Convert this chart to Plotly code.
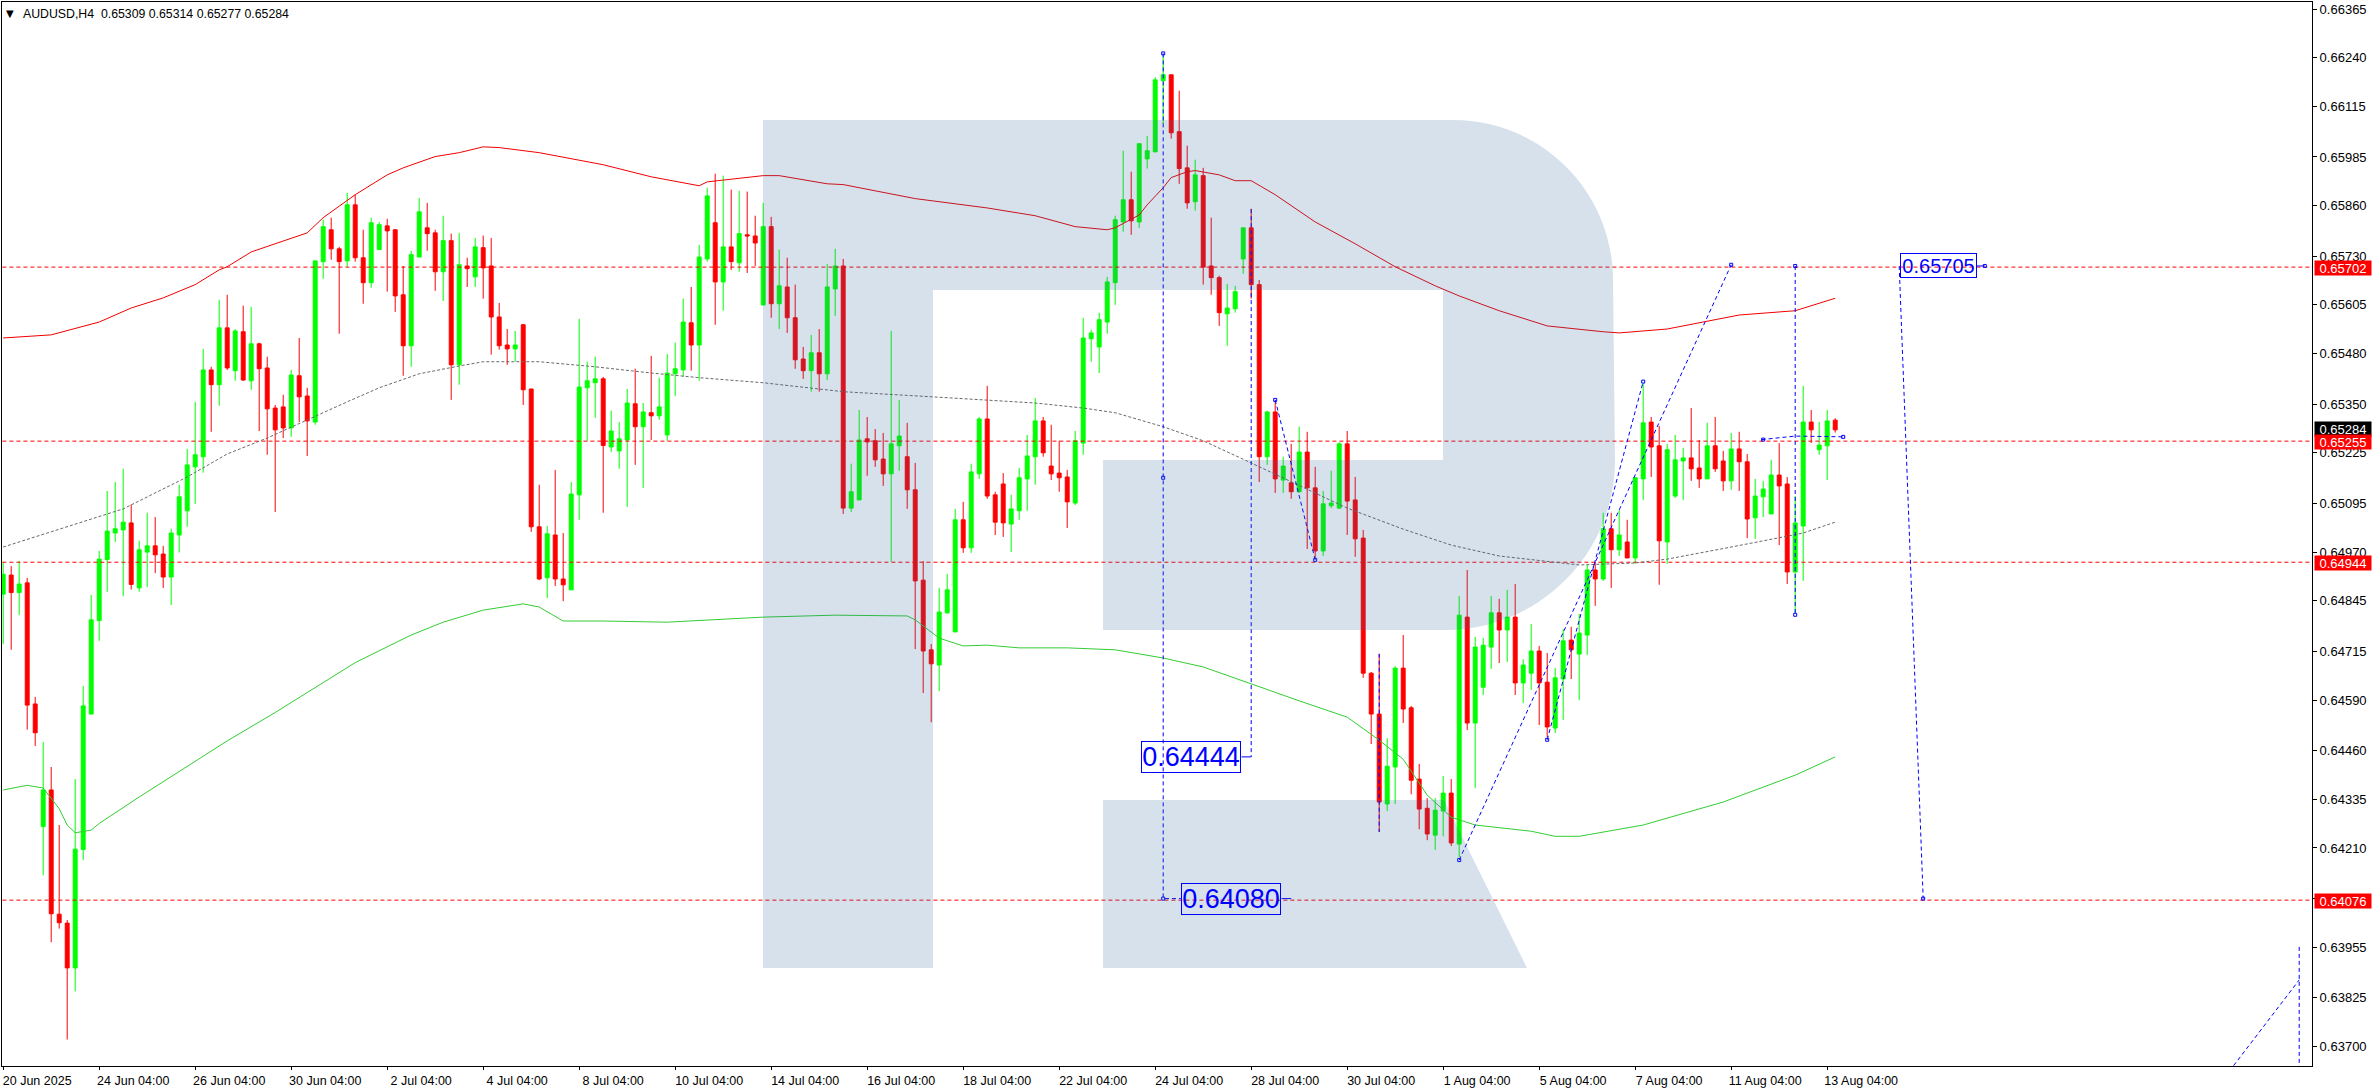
import plotly.graph_objects as go

W, H = 2376, 1090
ML, MR, MT, MB = 2, 64, 2, 24

# OHLC in price points (1 point = 0.00001)
open_pts = [
64862,64911,64866,64891,64580,64265,64359,64040,64017,63902,
64206,64554,64794,64951,65019,65027,65045,64878,64970,64986,
64965,64906,65014,65076,65189,65215,65438,65400,65546,65436,
65536,65410,65505,65443,65340,65343,65289,65423,65371,65304,
65716,65798,65749,65718,65862,65726,65662,65747,65808,65798,
65631,65500,65728,65803,65790,65690,65770,65451,65705,65677,
65752,65705,65574,65502,65492,65554,65389,65035,64904,65014,
64901,64873,65117,65392,65405,65415,65240,65230,65258,65351,
65292,65328,65320,65271,65428,65438,65559,65502,65723,65816,
65664,65754,65713,65785,65782,65605,65806,65608,65651,65572,
65466,65436,65482,65428,65646,65705,65083,65104,65261,65256,
65209,65171,65243,65215,65130,64898,64719,64680,64814,64765,
65053,64981,65171,65312,65117,65145,65042,65076,65158,65215,
65307,65191,65173,65163,65096,65250,65518,65497,65561,65662,
65818,65875,65818,65980,65998,66181,66196,66050,65957,65870,
65937,65705,65675,65582,65595,65723,65803,65657,65215,65330,
65155,65148,65125,65227,65135,64973,65089,65083,65248,65104,
65006,64659,64554,64323,64418,64672,64570,64387,64312,64243,
64305,64351,64220,64803,64531,64623,64726,64814,64770,64803,
64634,64659,64716,64636,64518,64644,64744,64708,64757,64924,
64901,65030,64976,64996,64955,65158,65304,65243,64996,65114,
65204,65212,65186,65158,65243,65204,65153,65235,65202,65058,
65112,65068,65168,65145,64919,65037,65304,65233,65243,65309]
high_pts = [
64945,64934,64947,64904,64598,64482,64418,64269,64025,64387,
64626,64860,64973,65127,65150,65184,65092,64999,65071,65060,
64986,65030,65143,65235,65356,65492,65446,65618,65631,65543,
65603,65600,65508,65472,65348,65374,65438,65520,65392,65718,
65824,65829,65754,65893,65888,65798,65829,65818,65826,65800,
65705,65744,65880,65867,65798,65834,65788,65790,65726,65777,
65783,65777,65610,65543,65538,65556,65389,65143,65037,65181,
65019,65150,65569,65459,65472,65420,65333,65304,65389,65441,
65353,65474,65418,65479,65508,65621,65651,65759,65906,65942,
65937,65901,65898,65896,65834,65867,65831,65747,65726,65657,
65497,65528,65543,65710,65749,65723,65197,65335,65317,65286,
65276,65538,65361,65302,65199,64947,64734,64878,64914,65081,
65099,65197,65317,65397,65125,65173,65117,65186,65271,65366,
65317,65297,65256,65181,65281,65572,65541,65585,65677,65834,
66001,65947,66019,66039,66190,66245,66196,66155,66014,65978,
65957,65829,65680,65659,65654,65803,65852,65669,65333,65358,
65215,65248,65292,65279,65189,65127,65179,65252,65281,65163,
65027,64662,64708,64492,64677,64757,64575,64426,64338,64338,
64395,64387,64857,64924,64752,64749,64857,64850,64873,64888,
64695,64785,64729,64711,64672,64772,64778,64811,64937,64945,
65071,65071,65078,65053,65161,65405,65317,65294,65248,65271,
65238,65340,65258,65302,65317,65230,65276,65279,65222,65158,
65153,65207,65250,65163,65114,65397,65335,65304,65335,65314]
low_pts = [
64734,64719,64808,64514,64472,64140,63968,64003,63718,63842,
64179,64553,64742,64868,64996,64857,64874,64868,64880,64916,
64878,64834,64969,65035,65094,65174,65279,65346,65438,65410,
65410,65387,65281,65220,65073,65263,65266,65304,65217,65297,
65672,65721,65531,65703,65716,65608,65649,65747,65639,65587,
65423,65446,65728,65744,65641,65615,65361,65400,65651,65651,
65621,65477,65490,65451,65459,65348,65022,64898,64852,64883,
64844,64873,65053,65256,65315,65071,65227,65184,65086,65194,
65135,65258,65310,65256,65371,65420,65436,65410,65716,65554,
65590,65695,65690,65687,65705,65603,65572,65543,65533,65441,
65415,65382,65382,65412,65577,65068,65073,65104,65166,65189,
65140,64945,65179,65081,64721,64608,64533,64613,64811,64765,
64968,64968,65158,65107,65014,65009,64970,65053,65076,65143,
65215,65155,65125,65032,65091,65220,65459,65430,65531,65605,
65793,65785,65803,65955,65998,66070,66032,65916,65852,65847,
65657,65631,65551,65500,65585,65685,65621,65150,65194,65122,
65122,65107,65122,64978,64955,64960,65083,65081,65014,64958,
64647,64477,64251,64305,64323,64531,64348,64258,64230,64205,
64240,64215,64186,64513,64364,64603,64670,64685,64688,64603,
64582,64616,64526,64495,64505,64539,64644,64590,64706,64832,
64896,64878,64960,64955,64940,65104,65163,64886,64940,65109,
65104,65153,65135,65158,65176,65127,65130,65127,65006,65004,
65060,65068,64988,64888,64814,64896,65250,65220,65155,65277]
close_pts = [
64913,64866,64888,64577,64506,64359,64041,64018,63902,64207,
64575,64796,64952,65024,65030,65047,64887,64976,64986,64963,
64906,65019,65112,65194,65220,65438,65400,65546,65443,65538,
65412,65505,65441,65338,65284,65289,65425,65369,65307,65718,
65806,65749,65716,65862,65726,65662,65816,65811,65795,65628,
65500,65734,65844,65788,65690,65770,65451,65708,65698,65754,
65700,65574,65500,65492,65502,65387,65035,64901,65017,64901,
64886,65119,65394,65410,65415,65244,65281,65261,65353,65292,
65330,65320,65343,65430,65441,65561,65502,65728,65885,65664,
65754,65716,65788,65782,65764,65806,65608,65654,65572,65464,
65436,65482,65428,65651,65705,65083,65125,65258,65253,65207,
65171,65248,65268,65130,64896,64716,64683,64816,64873,65053,
64981,65176,65312,65114,65047,65045,65081,65161,65217,65307,
65225,65171,65161,65099,65256,65520,65533,65567,65664,65824,
65875,65821,66019,66001,66183,66196,66047,65955,65867,65939,
65702,65675,65585,65597,65639,65803,65657,65215,65330,65158,
65191,65125,65227,65135,64973,65094,65096,65248,65101,65004,
64659,64554,64328,64420,64672,64567,64384,64310,64246,64307,
64351,64223,64808,64531,64726,64731,64814,64770,64803,64634,
64680,64716,64634,64521,64647,64742,64719,64762,64924,64901,
65030,64976,65014,64955,65161,65302,65240,64999,65233,65207,
65212,65184,65158,65243,65184,65153,65235,65202,65055,65114,
65132,65168,65140,64919,65045,65304,65284,65245,65307,65284]

# Envelope lines read at bar numbers
upper_bar = [0,6,12,16,20,24,27,28,31,38,40,44,48,50,54,57,60,62,67,75,81,87,88,95,97,103,105,114,123,129,134,138,139,142,143,145,146,148,149,152,154,156,159,164,169,174,179,182,187,193,200,202,208,217,224,229]
upper_pts = [65520,65528,65561,65597,65623,65657,65695,65703,65741,65790,65829,65888,65939,65957,65986,65996,66011,66009,65996,65965,65934,65911,65921,65937,65937,65916,65914,65878,65854,65834,65806,65798,65803,65836,65862,65906,65932,65947,65950,65939,65924,65924,65888,65818,65762,65703,65654,65628,65590,65551,65536,65533,65543,65579,65590,65622]
middle_bar = [0,15,23,28,33,38,43,47,52,57,60,67,74,81,87,95,105,116,129,135,139,145,150,156,162,168,175,181,187,197,204,208,216,225,229]
middle_pts = [64983,65081,65163,65222,65263,65310,65356,65392,65428,65448,65459,65459,65446,65430,65418,65405,65382,65369,65353,65340,65328,65292,65256,65199,65140,65083,65029,64988,64960,64937,64942,64952,64983,65019,65047]
lower_bar = [0,3,5,7,8,9,11,12,17,22,28,34,44,51,55,60,65,67,70,75,83,95,104,113,114,117,120,123,127,133,139,145,150,162,168,172,175,178,181,184,191,194,197,205,215,224,229]
lower_pts = [64359,64371,64364,64311,64269,64249,64256,64273,64341,64406,64485,64558,64686,64757,64790,64821,64837,64829,64793,64793,64790,64803,64808,64806,64796,64749,64729,64731,64724,64724,64719,64698,64675,64588,64546,64487,64438,64346,64289,64269,64253,64240,64240,64269,64328,64397,64444]

levels = [0.65702, 0.65255, 0.64944, 0.64076]

# Blue dashed analysis lines: (bars, prices)
forecast_lines = [
    ([145, 145, 147.2], [0.66251, 0.64080, 0.64080]),
    ([156, 156], [0.65851, 0.64444]),
    ([159, 164], [0.65361, 0.64950]),
    ([182, 216], [0.64179, 0.65708]),
    ([193, 205], [0.64488, 0.65408]),
    ([224, 224], [0.65705, 0.64809]),
    ([172, 172], [0.64709, 0.64251]),
    ([219.8, 224, 230.3], [0.65259, 0.65268, 0.65266]),
    ([237, 240], [0.65705, 0.64080]),
    ([278.8, 287], [0.63651, 0.63871]),
    ([287, 287], [0.63956, 0.63650]),
]
connector_lines = [
    ([154.8, 156], [0.64444, 0.64444]),
    ([159.8, 161], [0.64080, 0.64080]),
    ([246.7, 247.7], [0.65705, 0.65705]),
]
anchor_bar = [145, 145, 145, 159, 164, 182, 216, 193, 205, 224, 224, 220, 230, 240, 247.7]
anchor_price = [0.66251, 0.65161, 0.64080, 0.65361, 0.64950, 0.64179, 0.65708, 0.64488, 0.65408, 0.65705, 0.64809, 0.65259, 0.65266, 0.64080, 0.65705]

blue_boxes = [("0.64444", 148.5, 0.64444, 98, 30, 27), ("0.64080", 153.5, 0.64080, 98, 30, 27), ("0.65705", 241.9, 0.65705, 75, 23, 20)]

y_ticks = ["0.66365","0.66240","0.66115","0.65985","0.65860","0.65730","0.65605","0.65480","0.65350","0.65225","0.65095","0.64970","0.64845","0.64715","0.64590","0.64460","0.64335","0.64210","0.64080","0.63955","0.63825","0.63700"]
x_tick_bars = list(range(0, 229, 12))
x_tick_text = ["20 Jun 2025","24 Jun 04:00","26 Jun 04:00","30 Jun 04:00","2 Jul 04:00","4 Jul 04:00","8 Jul 04:00","10 Jul 04:00","14 Jul 04:00","16 Jul 04:00","18 Jul 04:00","22 Jul 04:00","24 Jul 04:00","28 Jul 04:00","30 Jul 04:00","1 Aug 04:00","5 Aug 04:00","7 Aug 04:00","11 Aug 04:00","13 Aug 04:00"]
price_tags = [("0.65284", 0.65284 + 0.00003, "#000000"), ("0.65702", 0.65702 - 0.00001, "#FF0000"), ("0.65255", 0.65255 - 0.00002, "#FF0000"), ("0.64944", 0.64944 - 0.00001, "#FF0000"), ("0.64076", 0.64076 - 0.00002, "#FF0000")]

pts = lambda seq: [v / 100000 for v in seq]
FONT = "Liberation Sans"
BLUE = "#0000FF"

fig = go.Figure()
for lv in levels:
    fig.add_trace(go.Scatter(x=[-0.1, 288.7], y=[lv, lv], mode="lines", line=dict(color="#FF0000", width=1, dash="4px,3px"), hoverinfo="skip"))
fig.add_trace(go.Scatter(x=upper_bar, y=pts(upper_pts), mode="lines", line=dict(color="#F00000", width=1), hoverinfo="skip"))
fig.add_trace(go.Scatter(x=middle_bar, y=pts(middle_pts), mode="lines", line=dict(color="#696969", width=1, dash="3px,2px"), hoverinfo="skip"))
fig.add_trace(go.Scatter(x=lower_bar, y=pts(lower_pts), mode="lines", line=dict(color="#32CD32", width=1), hoverinfo="skip"))
fig.add_trace(go.Candlestick(
    x=list(range(len(open_pts))), open=pts(open_pts), high=pts(high_pts), low=pts(low_pts), close=pts(close_pts),
    increasing=dict(line=dict(color="#00FF00", width=1), fillcolor="#00FF00"),
    decreasing=dict(line=dict(color="#FF0000", width=1), fillcolor="#FF0000"),
    whiskerwidth=0, hoverinfo="skip"))
for bars, prices in forecast_lines:
    fig.add_trace(go.Scatter(x=bars, y=prices, mode="lines", line=dict(color=BLUE, width=1, dash="4px,3px"), hoverinfo="skip"))
for bars, prices in connector_lines:
    fig.add_trace(go.Scatter(x=bars, y=prices, mode="lines", line=dict(color=BLUE, width=1), hoverinfo="skip"))
fig.add_trace(go.Scatter(x=anchor_bar, y=anchor_price, mode="markers", marker=dict(symbol="square-open", size=3, color=BLUE, line=dict(width=1, color=BLUE)), hoverinfo="skip"))

# Watermark logo, drawn above marks with transparency (pixel geometry -> paper)
pw, ph = W - ML - MR, H - MT - MB
px = lambda x: (x - ML) / pw
py = lambda y: 1 - (y - MT) / ph
k = 0.5523
def P(*pairs):
    return " ".join(f"{px(a):.5f},{py(b):.5f}" for a, b in pairs)
r1, c1x, c1y = 160, 1453, 280
r2, c2x, c2y = 170, 1445, 460
logo = ("M " + P((763, 120)) + " L " + P((c1x, 120)) +
        " C " + P((c1x + k*r1, 120), (c1x + r1, c1y - k*r1), (c1x + r1, c1y)) +
        " L " + P((c2x + r2, c2y)) +
        " C " + P((c2x + r2, c2y + k*r2), (c2x + k*r2, c2y + r2), (c2x, c2y + r2)) +
        " L " + P((1103, 630)) + " L " + P((1103, 460)) + " L " + P((1443, 460)) + " L " + P((1443, 290)) +
        " L " + P((933, 290)) + " L " + P((933, 968)) + " L " + P((763, 968)) + " Z")
logo2 = "M " + P((1103, 800)) + " L " + P((1444, 800)) + " L " + P((1527, 968)) + " L " + P((1103, 968)) + " Z"
shapes = [dict(type="path", path=p, xref="paper", yref="paper", layer="above", fillcolor="rgba(50,105,160,0.2)", line=dict(width=0)) for p in (logo, logo2)]

annots = [
    dict(text="\u25BC", xref="paper", yref="paper", x=px(10), y=py(14), xanchor="center", yanchor="middle", showarrow=False, font=dict(family="DejaVu Sans", size=10, color="#000000")),
    dict(text="AUDUSD,H4\u00a0\u00a00.65309 0.65314 0.65277 0.65284", xref="paper", yref="paper", x=px(21), y=py(14), xanchor="left", yanchor="middle", showarrow=False, font=dict(family=FONT, size=12.3, color="#000000")),
]
for text, yv, col in price_tags:
    annots.append(dict(text=text, xref="paper", yref="y", x=px(2314), y=yv, xanchor="left", yanchor="middle", showarrow=False, width=56, height=14, borderpad=0, bgcolor=col, font=dict(family=FONT, size=13, color="#FFFFFF")))
for text, bar, price, bw, bh, fs in blue_boxes:
    annots.append(dict(text=text, x=bar, y=price, xanchor="center", yanchor="middle", showarrow=False, width=bw, height=bh, borderpad=0, borderwidth=1, bordercolor=BLUE, font=dict(family=FONT, size=fs, color=BLUE)))

fig.update_layout(
    width=W, height=H, paper_bgcolor="#FFFFFF", plot_bgcolor="#FFFFFF", showlegend=False,
    margin=dict(l=ML, r=MR, t=MT, b=MB, pad=0), shapes=shapes, annotations=annots,
    font=dict(family=FONT, size=13, color="#000000"),
    xaxis=dict(range=[-0.15, 288.6], tickmode="array", tickvals=x_tick_bars, ticktext=x_tick_text, ticks="outside", ticklen=3, tickcolor="#000000", tickwidth=1,
               showgrid=False, zeroline=False, showline=True, linecolor="#000000", linewidth=1, mirror=True, rangeslider=dict(visible=False), ticklabelshift=34, tickfont=dict(family=FONT, size=12.5), automargin=False),
    yaxis=dict(range=[0.63650, 0.66383], side="right", tickmode="array", tickvals=[float(t) for t in y_ticks], ticktext=y_ticks, ticks="outside", ticklen=4, tickcolor="#000000", tickwidth=1,
               showgrid=False, zeroline=False, showline=True, linecolor="#000000", linewidth=1, mirror=True, tickfont=dict(family=FONT, size=13), automargin=False),
)
fig.write_html("out.html", config=dict(displayModeBar=False), post_script="document.body.style.margin='0';")
